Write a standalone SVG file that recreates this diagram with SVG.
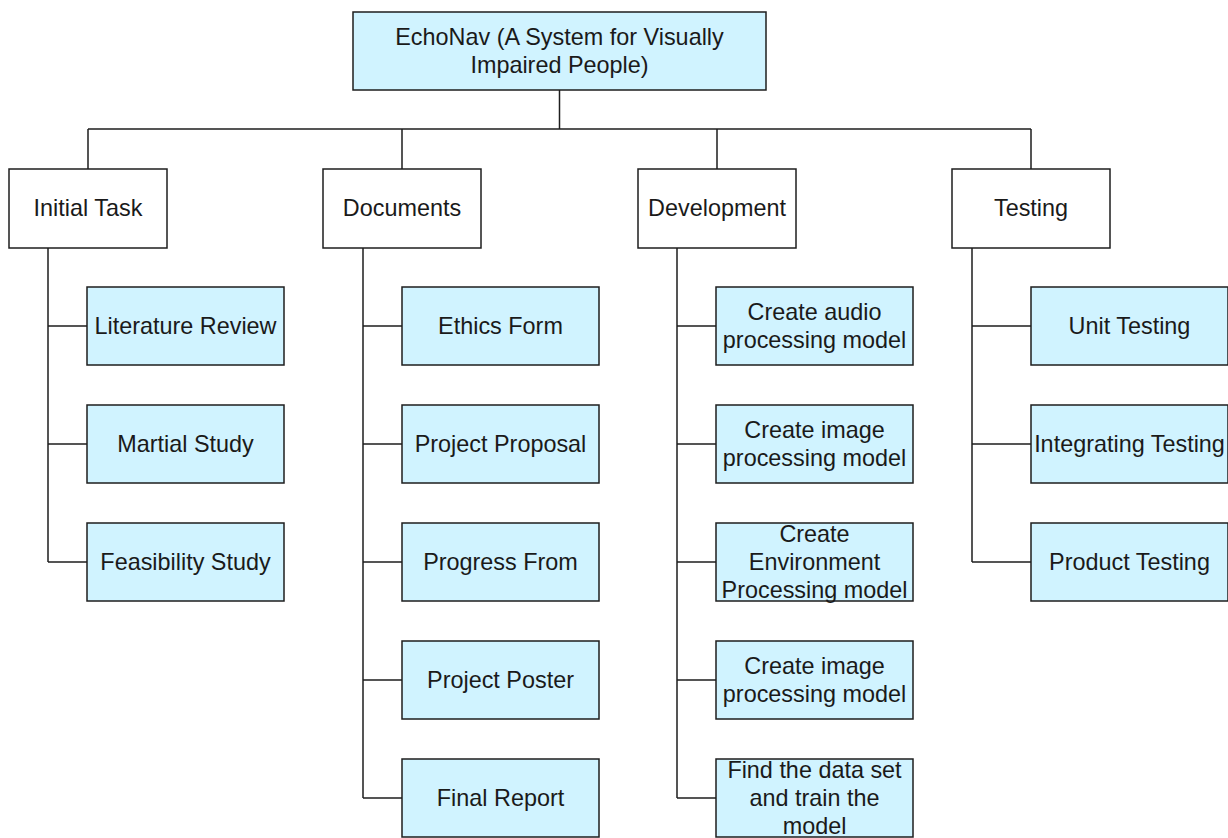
<svg xmlns="http://www.w3.org/2000/svg" width="1228" height="838" viewBox="0 0 1228 838">
<style>
.box{fill:#d0f3ff;stroke:#1e1e1e;stroke-width:1.5}
.cat{fill:#ffffff;stroke:#1e1e1e;stroke-width:1.5}
.lbl{font-family:"Liberation Sans",Arial,sans-serif;font-size:23.4px;fill:#1a1a1a;text-anchor:middle}
.con{fill:none;stroke:#1e1e1e;stroke-width:1.5}
</style>
<rect width="1228" height="838" fill="#ffffff"/>
<g id="connectors">
<path class="con" d="M559.5 90V129M88 129H1031M88 129V169M402 129V169M717 129V169M1031 129V169"/>
<path class="con" d="M48 248V562M48 326H87M48 444H87M48 562H87"/>
<path class="con" d="M363 248V798M363 326H402M363 444H402M363 562H402M363 680H402M363 798H402"/>
<path class="con" d="M677 248V798M677 326H716M677 444H716M677 562H716M677 680H716M677 798H716"/>
<path class="con" d="M972 248V562M972 326H1031M972 444H1031M972 562H1031"/>
</g>
<g id="root"><rect class="box" x="353" y="12" width="413" height="78"/><text class="lbl" x="559.5" y="44.5">EchoNav (A System for Visually</text><text class="lbl" x="559.5" y="72.5">Impaired People)</text></g>
<g id="initial-task"><rect class="cat" x="9" y="169" width="158" height="79"/><text class="lbl" x="88" y="216">Initial Task</text></g>
<g id="documents"><rect class="cat" x="323" y="169" width="158" height="79"/><text class="lbl" x="402" y="216">Documents</text></g>
<g id="development"><rect class="cat" x="638" y="169" width="158" height="79"/><text class="lbl" x="717" y="216">Development</text></g>
<g id="testing"><rect class="cat" x="952" y="169" width="158" height="79"/><text class="lbl" x="1031" y="216">Testing</text></g>

<g id="literature-review"><rect class="box" x="87" y="287" width="197" height="78"/><text class="lbl" x="185.5" y="334">Literature Review</text></g>
<g id="martial-study"><rect class="box" x="87" y="405" width="197" height="78"/><text class="lbl" x="185.5" y="452">Martial Study</text></g>
<g id="feasibility-study"><rect class="box" x="87" y="523" width="197" height="78"/><text class="lbl" x="185.5" y="570">Feasibility Study</text></g>

<g id="ethics-form"><rect class="box" x="402" y="287" width="197" height="78"/><text class="lbl" x="500.5" y="334">Ethics Form</text></g>
<g id="project-proposal"><rect class="box" x="402" y="405" width="197" height="78"/><text class="lbl" x="500.5" y="452">Project Proposal</text></g>
<g id="progress-from"><rect class="box" x="402" y="523" width="197" height="78"/><text class="lbl" x="500.5" y="570">Progress From</text></g>
<g id="project-poster"><rect class="box" x="402" y="641" width="197" height="78"/><text class="lbl" x="500.5" y="688">Project Poster</text></g>
<g id="final-report"><rect class="box" x="402" y="759" width="197" height="78"/><text class="lbl" x="500.5" y="806">Final Report</text></g>

<g id="audio-model"><rect class="box" x="716" y="287" width="197" height="78"/><text class="lbl" x="814.5" y="319.5">Create audio</text><text class="lbl" x="814.5" y="348">processing model</text></g>
<g id="image-model-1"><rect class="box" x="716" y="405" width="197" height="78"/><text class="lbl" x="814.5" y="437.5">Create image</text><text class="lbl" x="814.5" y="466">processing model</text></g>
<g id="environment-model"><rect class="box" x="716" y="523" width="197" height="78"/><text class="lbl" x="814.5" y="541.5">Create</text><text class="lbl" x="814.5" y="569.5">Environment</text><text class="lbl" x="814.5" y="597.5">Processing model</text></g>
<g id="image-model-2"><rect class="box" x="716" y="641" width="197" height="78"/><text class="lbl" x="814.5" y="673.5">Create image</text><text class="lbl" x="814.5" y="702">processing model</text></g>
<g id="train-model"><rect class="box" x="716" y="759" width="197" height="78"/><text class="lbl" x="814.5" y="778">Find the data set</text><text class="lbl" x="814.5" y="806">and train the</text><text class="lbl" x="814.5" y="834">model</text></g>

<g id="unit-testing"><rect class="box" x="1031" y="287" width="197" height="78"/><text class="lbl" x="1129.5" y="334">Unit Testing</text></g>
<g id="integrating-testing"><rect class="box" x="1031" y="405" width="197" height="78"/><text class="lbl" x="1129.5" y="452">Integrating Testing</text></g>
<g id="product-testing"><rect class="box" x="1031" y="523" width="197" height="78"/><text class="lbl" x="1129.5" y="570">Product Testing</text></g>
</svg>
